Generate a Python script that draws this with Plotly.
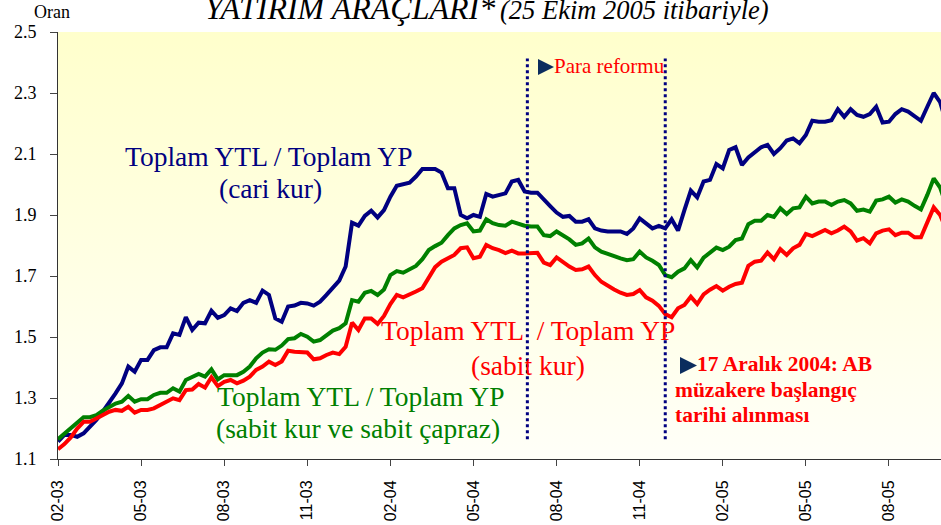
import plotly.graph_objects as go
import pandas as pd

# ---------------- data ----------------
start_date = "2003-02-07"
n_weeks = 140
dates = pd.date_range(start_date, periods=n_weeks, freq="7D")

tick_labels = ["02-03", "05-03", "08-03", "11-03", "02-04", "05-04",
               "08-04", "11-04", "02-05", "05-05", "08-05"]
tick_dates = list(dates[::13][:len(tick_labels)])

y_ticks = [1.1, 1.3, 1.5, 1.7, 1.9, 2.1, 2.3, 2.5]

event_dates = ["2004-07-05", "2004-12-03"]

# Toplam YTL / Toplam YP (cari kur)
cari_kur = [
    1.157, 1.179, 1.179, 1.173, 1.184, 1.206, 1.228, 1.255, 1.283, 1.315,
    1.348, 1.403, 1.386, 1.425, 1.425, 1.457, 1.466, 1.466, 1.512, 1.507,
    1.565, 1.523, 1.547, 1.545, 1.586, 1.563, 1.572, 1.594, 1.585, 1.612,
    1.621, 1.612, 1.652, 1.638, 1.561, 1.550, 1.600, 1.603, 1.612, 1.610,
    1.603, 1.616, 1.638, 1.663, 1.685, 1.731, 1.875, 1.865, 1.897, 1.914,
    1.892, 1.916, 1.960, 1.996, 2.002, 2.006, 2.026, 2.051, 2.051, 2.051,
    2.039, 1.988, 1.988, 1.900, 1.889, 1.900, 1.894, 1.969, 1.960, 1.965,
    1.971, 2.010, 2.015, 1.977, 1.973, 1.973, 1.949, 1.929, 1.908, 1.894,
    1.897, 1.878, 1.878, 1.886, 1.856, 1.849, 1.846, 1.846, 1.846, 1.838,
    1.856, 1.889, 1.873, 1.856, 1.864, 1.856, 1.886, 1.849, 1.916, 1.980,
    1.958, 2.010, 2.015, 2.067, 2.053, 2.113, 2.122, 2.064, 2.089, 2.104,
    2.122, 2.130, 2.100, 2.119, 2.144, 2.151, 2.135, 2.162, 2.209, 2.206,
    2.206, 2.211, 2.247, 2.222, 2.247, 2.228, 2.222, 2.231, 2.255, 2.203,
    2.206, 2.231, 2.247, 2.239, 2.222, 2.209, 2.255, 2.300, 2.270, 2.200,
]

# Toplam YTL / Toplam YP (sabit kur ve sabit capraz)
sabit_capraz = [
    1.165, 1.184, 1.200, 1.219, 1.237, 1.237, 1.244, 1.258, 1.271, 1.282,
    1.288, 1.307, 1.288, 1.296, 1.296, 1.310, 1.317, 1.317, 1.332, 1.321,
    1.359, 1.368, 1.379, 1.370, 1.394, 1.361, 1.375, 1.375, 1.375, 1.386,
    1.403, 1.430, 1.449, 1.460, 1.458, 1.472, 1.493, 1.496, 1.510, 1.501,
    1.485, 1.490, 1.507, 1.521, 1.529, 1.545, 1.621, 1.616, 1.645, 1.651,
    1.638, 1.656, 1.703, 1.716, 1.711, 1.722, 1.733, 1.755, 1.785, 1.798,
    1.809, 1.834, 1.856, 1.867, 1.873, 1.846, 1.849, 1.886, 1.873, 1.867,
    1.865, 1.878, 1.871, 1.865, 1.862, 1.862, 1.834, 1.831, 1.846, 1.834,
    1.820, 1.802, 1.807, 1.823, 1.794, 1.780, 1.772, 1.766, 1.758, 1.752,
    1.755, 1.780, 1.761, 1.750, 1.736, 1.703, 1.696, 1.714, 1.725, 1.752,
    1.728, 1.760, 1.775, 1.793, 1.785, 1.796, 1.818, 1.823, 1.870, 1.881,
    1.881, 1.900, 1.894, 1.922, 1.903, 1.922, 1.925, 1.960, 1.938, 1.944,
    1.944, 1.933, 1.944, 1.949, 1.938, 1.914, 1.918, 1.911, 1.947, 1.951,
    1.960, 1.941, 1.951, 1.944, 1.930, 1.918, 1.966, 2.020, 1.990, 1.930,
]

# Toplam YTL / Toplam YP (sabit kur)
sabit_kur = [
    1.132, 1.149, 1.171, 1.200, 1.222, 1.222, 1.233, 1.244, 1.255, 1.261,
    1.258, 1.271, 1.252, 1.261, 1.261, 1.266, 1.277, 1.288, 1.299, 1.293,
    1.326, 1.328, 1.346, 1.334, 1.368, 1.339, 1.353, 1.359, 1.348, 1.357,
    1.370, 1.392, 1.403, 1.419, 1.408, 1.420, 1.455, 1.452, 1.452, 1.449,
    1.427, 1.430, 1.441, 1.449, 1.444, 1.468, 1.547, 1.523, 1.561, 1.561,
    1.543, 1.569, 1.608, 1.638, 1.630, 1.638, 1.649, 1.660, 1.692, 1.729,
    1.747, 1.758, 1.769, 1.791, 1.794, 1.758, 1.763, 1.802, 1.791, 1.785,
    1.775, 1.783, 1.774, 1.774, 1.776, 1.776, 1.744, 1.736, 1.761, 1.744,
    1.731, 1.720, 1.722, 1.731, 1.703, 1.681, 1.667, 1.656, 1.645, 1.638,
    1.641, 1.654, 1.630, 1.619, 1.602, 1.575, 1.565, 1.594, 1.605, 1.632,
    1.608, 1.640, 1.655, 1.667, 1.652, 1.665, 1.674, 1.678, 1.733, 1.747,
    1.750, 1.777, 1.755, 1.788, 1.769, 1.791, 1.802, 1.838, 1.831, 1.842,
    1.851, 1.840, 1.849, 1.862, 1.846, 1.816, 1.824, 1.807, 1.840, 1.849,
    1.853, 1.834, 1.842, 1.842, 1.827, 1.827, 1.878, 1.925, 1.900, 1.850,
]

# ---------------- layout geometry ----------------
W, H = 941, 525
L, R, T, B = 58, 0, 32, 66
PW, PH = W - L - R, H - T - B


def px(x, y):
    """pixel position -> paper coordinates"""
    return (x - L) / PW, (H - B - y) / PH


x_start = dates[0]
x_end = dates[0] + pd.Timedelta(days=138.14 * 7)

SERIF = "Liberation Serif, Times New Roman, serif"
SANS = "Liberation Sans, Arial, sans-serif"
NAVY = "#000080"
GREEN = "#008000"
RED = "#FF0000"

fig = go.Figure()

# background gradient of the plot area
fig.add_trace(go.Scatter(
    x=[x_start, x_end, x_end, x_start, x_start],
    y=[y_ticks[0], y_ticks[0], y_ticks[-1], y_ticks[-1], y_ticks[0]],
    fill="toself", mode="lines", line=dict(width=0),
    fillgradient=dict(type="vertical",
                      colorscale=[[0, "#FFFFF8"], [1, "#FFFFCC"]]),
    hoverinfo="skip", showlegend=False,
))

for vals, col in [(cari_kur, NAVY), (sabit_capraz, GREEN), (sabit_kur, RED)]:
    fig.add_trace(go.Scatter(
        x=dates, y=vals, mode="lines",
        line=dict(color=col, width=4), showlegend=False,
    ))

# event lines
for d in event_dates:
    fig.add_shape(type="line", xref="x", yref="y", x0=d, x1=d,
                  y0=1.165, y1=2.413,
                  line=dict(color=NAVY, width=3, dash="dot"))

# triangle pointers
for (x0, y0, y1, xt) in [(538, 59, 75, 554), (680, 357, 374, 697)]:
    a = px(x0, y0)
    b = px(x0, y1)
    c = px(xt, (y0 + y1) / 2)
    fig.add_shape(type="path", xref="paper", yref="paper",
                  path=f"M {a[0]} {a[1]} L {b[0]} {b[1]} L {c[0]} {c[1]} Z",
                  fillcolor="#0B2D5E", line=dict(width=0))


def note(text, x, y, size, color, anchor="center", family=SERIF):
    px_, py_ = px(x, y)
    fig.add_annotation(x=px_, y=py_, xref="paper", yref="paper",
                       text=text, showarrow=False, xanchor=anchor,
                       yanchor="middle", borderpad=0,
                       font=dict(family=family, size=size, color=color))


note("Toplam YTL / Toplam YP", 268, 156, 27.5, NAVY)
note("(cari kur)", 270, 189, 27.5, NAVY)
note("Toplam YTL \u00a0/ Toplam YP", 528, 330, 27.5, RED)
note("(sabit kur)", 528, 365, 27.5, RED)
note("Toplam YTL / Toplam YP", 360, 396, 27.5, GREEN)
note("(sabit kur ve sabit çapraz)", 358, 428, 27.5, GREEN)
note("Para reformu", 553, 66, 21, RED, anchor="left")
note("<b>17 Aralık 2004: AB</b>", 696, 364, 21.5, RED, anchor="left")
note("<b>müzakere başlangıç</b>", 674, 390, 21.5, RED, anchor="left")
note("<b>tarihi alınması</b>", 674, 415, 21.5, RED, anchor="left")
note("<i>YATIRIM ARAÇLARI*</i>", 496, 8, 32, "black", anchor="right")
note("<i>(25 Ekim 2005 itibariyle)</i>", 499, 10, 26.5, "black", anchor="left")
note("Oran", 52, 12, 18, "black")

fig.update_layout(
    width=W, height=H, template="none",
    margin=dict(l=L, r=R, t=T, b=B, pad=0),
    paper_bgcolor="white", plot_bgcolor="white",
    showlegend=False,
    xaxis=dict(type="date", range=[x_start, x_end],
               tickvals=tick_dates, ticktext=tick_labels, tickangle=-90,
               ticks="outside", ticklen=6, tickcolor="#444", tickwidth=1,
               showline=True, linecolor="#333", linewidth=1,
               showgrid=False, zeroline=False,
               ticklabelstandoff=8,
               tickfont=dict(family=SANS, size=16, color="black")),
    yaxis=dict(range=[y_ticks[0], y_ticks[-1]], tickvals=y_ticks,
               tickformat=".1f",
               ticks="outside", ticklen=7, tickcolor="#444", tickwidth=1,
               showline=True, linecolor="#333", linewidth=1,
               showgrid=False, zeroline=False,
               ticklabelstandoff=10,
               tickfont=dict(family=SERIF, size=18, color="black")),
)

fig.write_html(
    "out.html",
    config={"displayModeBar": False},
    post_script="document.body.style.margin='0px';"
                "document.body.style.overflow='hidden';",
)
